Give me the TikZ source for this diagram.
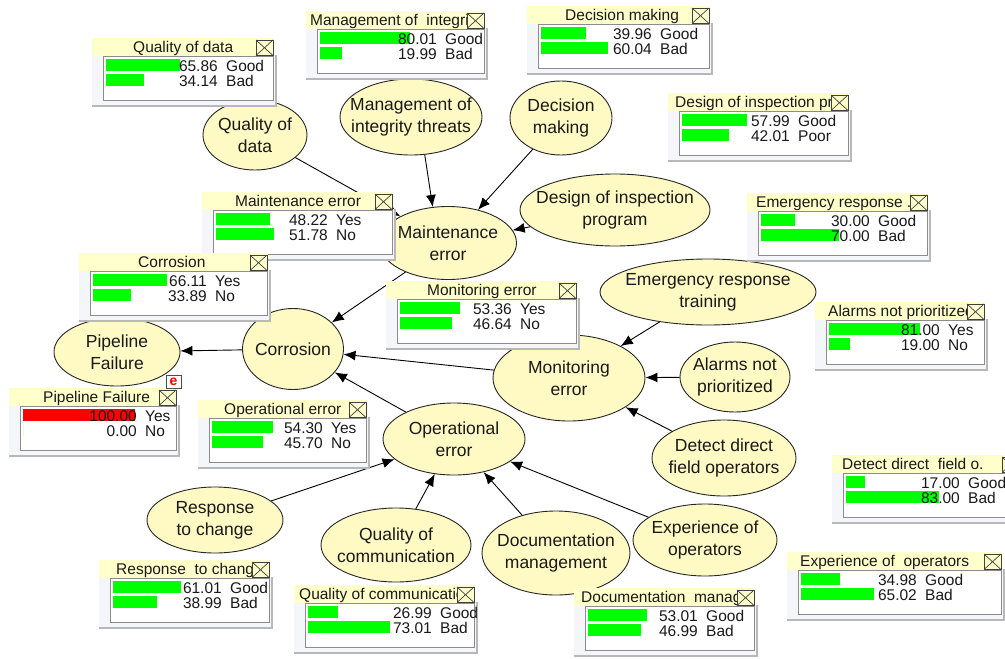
\documentclass[tikz,border=0pt]{standalone}
\usepackage{fontspec}
\setmainfont{Liberation Sans}
\usetikzlibrary{arrows.meta,shapes.geometric}
\definecolor{nodefill}{RGB}{255,250,196}
\definecolor{titlefill}{RGB}{255,255,204}
\definecolor{bodyfill}{RGB}{245,246,250}
\definecolor{barg}{RGB}{0,255,0}
\definecolor{barr}{RGB}{255,0,0}
% #1 name, #2 x, #3 y, #4 width, #5 height, #6 text
\newcommand\varnode[6]{%
  \node[var,minimum width=#4pt,minimum height=#5pt] (#1) at (#2,#3) {};
  \node[vartext] (#1l) at (#1.center) {#6};
}
% #1 name, #2 L, #3 T, #4 R, #5 title x, #6 title
\newcommand\monitor[6]{%
  \fill[bodyfill] (#2,#3+17) rectangle (#4+3,#3+69);
  \draw[black!28,line width=1.6pt] (#4+2.2,#3+17) -- (#4+2.2,#3+68.2) -- (#2,#3+68.2);
  \draw[black!45,fill=white,line width=0.8pt] (#2+11,#3+18.5) rectangle (#4-1,#3+62);
  \fill[titlefill] (#2,#3) rectangle (#4,#3+17.5);
  \begin{scope}
    \clip (#2,#3) rectangle (#4-18,#3+17.5);
    \node[montext,anchor=base west] (#1t) at (#5,#3+14) {#6};
  \end{scope}
  \draw[black!75,fill=titlefill,line width=0.7pt] (#4-18,#3+2) rectangle (#4-1,#3+17.5);
  \draw[black!75,line width=0.7pt] (#4-18,#3+2) -- (#4-1,#3+17.5) (#4-18,#3+17.5) -- (#4-1,#3+2);
}
% #1 name, #2 L, #3 T, #4 row, #5 N, #6 value, #7 state, #8 colour
\newcommand\mrow[8]{%
  \fill[#8] (#2+14,#3+21+15*#4) rectangle ++(#6*1.12,12);
  \node[montext,anchor=base east] (#1v#4) at (#5,#3+33+15*#4) {#6};
  \node[montext,anchor=base west] (#1s#4) at (#5+8,#3+33+15*#4) {#7};
}
\begin{document}
\begin{tikzpicture}[x=1pt,y=-1pt,
  var/.style={ellipse,draw=black!85,fill=nodefill,line width=0.9pt,inner sep=0pt},
  vartext/.style={inner sep=0pt,align=center,font=\fontsize{17.5}{22}\selectfont,text=black!90},
  edge/.style={draw=black,line width=0.9pt,-{Latex[length=12pt,width=10pt]}},
  montext/.style={font=\fontsize{15.5}{17}\selectfont,inner sep=0pt,text=black!90}]
\useasboundingbox (0,0) rectangle (1005,659);
\fill[white] (0,0) rectangle (1005,659);

% ellipses
\varnode{qd}{255}{135}{104}{70}{Quality of\\data}
\varnode{mg}{411}{117}{142}{76}{Management of\\integrity threats}
\varnode{dm}{561}{118}{102}{74}{Decision\\making}
\varnode{di}{615}{210}{190}{72}{Design of inspection\\program}
\varnode{me}{448}{243}{137}{73}{Maintenance\\error}
\varnode{er}{708}{292}{216}{66}{Emergency response\\training}
\varnode{co}{293}{349}{101}{81}{Corrosion}
\varnode{pf}{117}{352}{126}{68}{Pipeline\\Failure}
\varnode{mo}{569}{378}{152}{86}{Monitoring\\error}
\varnode{al}{735}{377}{110}{70}{Alarms not\\prioritized}
\varnode{op}{454}{439}{142}{72}{Operational\\error}
\varnode{dd}{724}{458}{144}{76}{Detect direct\\field operators}
\varnode{rc}{215}{520}{136}{66}{Response\\to change}
\varnode{qc}{396}{545}{150}{74}{Quality of\\communication}
\varnode{do}{556}{553}{148}{84}{Documentation\\management}
\varnode{ex}{705}{540}{144}{72}{Experience of\\operators}

% connectors
\draw[edge] (qd) -- (me);
\draw[edge] (mg.-70) -- (me.113);
\draw[edge] (dm) -- (me);
\draw[edge] (di) -- (me);
\draw[edge] (me) -- (co);
\draw[edge] (mo) -- (co);
\draw[edge] (op) -- (co);
\draw[edge] (co) -- (pf);
\draw[edge] (er) -- (mo);
\draw[edge] (al) -- (mo);
\draw[edge] (dd) -- (mo);
\draw[edge] (rc) -- (op);
\draw[edge] (qc) -- (op);
\draw[edge] (do) -- (op);
\draw[edge] (ex) -- (op);

% monitors
\monitor{qdm}{92}{38}{274}{133}{Quality of data}
\mrow{qdm}{92}{38}{0}{218}{65.86}{Good}{barg}
\mrow{qdm}{92}{38}{1}{218}{34.14}{Bad}{barg}

\monitor{mgm}{306}{11}{485}{310}{Management of~~integrity threats}
\mrow{mgm}{306}{11}{0}{437}{80.01}{Good}{barg}
\mrow{mgm}{306}{11}{1}{437}{19.99}{Bad}{barg}

\monitor{dmm}{527}{6}{710}{565}{Decision making}
\mrow{dmm}{527}{6}{0}{652}{39.96}{Good}{barg}
\mrow{dmm}{527}{6}{1}{652}{60.04}{Bad}{barg}

\monitor{dim}{668}{93}{849}{675}{Design of inspection program}
\mrow{dim}{668}{93}{0}{790}{57.99}{Good}{barg}
\mrow{dim}{668}{93}{1}{790}{42.01}{Poor}{barg}

\monitor{mem}{202}{192}{393}{235}{Maintenance error}
\mrow{mem}{202}{192}{0}{328}{48.22}{Yes}{barg}
\mrow{mem}{202}{192}{1}{328}{51.78}{No}{barg}

\monitor{erm}{747}{193}{928}{756}{Emergency response .}
\mrow{erm}{747}{193}{0}{870}{30.00}{Good}{barg}
\mrow{erm}{747}{193}{1}{870}{70.00}{Bad}{barg}

\monitor{com}{79}{253}{268}{138}{Corrosion}
\mrow{com}{79}{253}{0}{207}{66.11}{Yes}{barg}
\mrow{com}{79}{253}{1}{207}{33.89}{No}{barg}

\monitor{mom}{386}{281}{577}{427}{Monitoring error}
\mrow{mom}{386}{281}{0}{512}{53.36}{Yes}{barg}
\mrow{mom}{386}{281}{1}{512}{46.64}{No}{barg}

\monitor{alm}{815}{302}{985}{828}{Alarms not prioritized}
\mrow{alm}{815}{302}{0}{940}{81.00}{Yes}{barg}
\mrow{alm}{815}{302}{1}{940}{19.00}{No}{barg}

\monitor{pfm}{9}{388}{177}{43}{Pipeline Failure}
\mrow{pfm}{9}{388}{0}{137}{100.00}{Yes}{barr}
\mrow{pfm}{9}{388}{1}{137}{0.00}{No}{barg}

\monitor{opm}{198}{400}{367}{224}{Operational error}
\mrow{opm}{198}{400}{0}{323}{54.30}{Yes}{barg}
\mrow{opm}{198}{400}{1}{323}{45.70}{No}{barg}

\monitor{ddm}{832}{455}{1020}{842}{Detect direct~~field o.}
\mrow{ddm}{832}{455}{0}{960}{17.00}{Good}{barg}
\mrow{ddm}{832}{455}{1}{960}{83.00}{Bad}{barg}

\monitor{rcm}{99}{560}{270}{116}{Response~~to change}
\mrow{rcm}{99}{560}{0}{222}{61.01}{Good}{barg}
\mrow{rcm}{99}{560}{1}{222}{38.99}{Bad}{barg}

\monitor{qcm}{294}{585}{475}{299}{Quality of communication}
\mrow{qcm}{294}{585}{0}{432}{26.99}{Good}{barg}
\mrow{qcm}{294}{585}{1}{432}{73.01}{Bad}{barg}

\monitor{dom}{574}{588}{755}{581}{Documentation~~management}
\mrow{dom}{574}{588}{0}{698}{53.01}{Good}{barg}
\mrow{dom}{574}{588}{1}{698}{46.99}{Bad}{barg}

\monitor{exm}{787}{552}{1002}{800}{Experience of~~operators}
\mrow{exm}{787}{552}{0}{917}{34.98}{Good}{barg}
\mrow{exm}{787}{552}{1}{917}{65.02}{Bad}{barg}

% evidence marker
\node[draw=black!70,fill=white,line width=0.6pt,minimum width=15pt,minimum height=13pt,
  inner sep=0pt,text=red,font=\bfseries\fontsize{14}{14}\selectfont] (ev) at (173.5,381.5) {e};
\end{tikzpicture}
\end{document}
